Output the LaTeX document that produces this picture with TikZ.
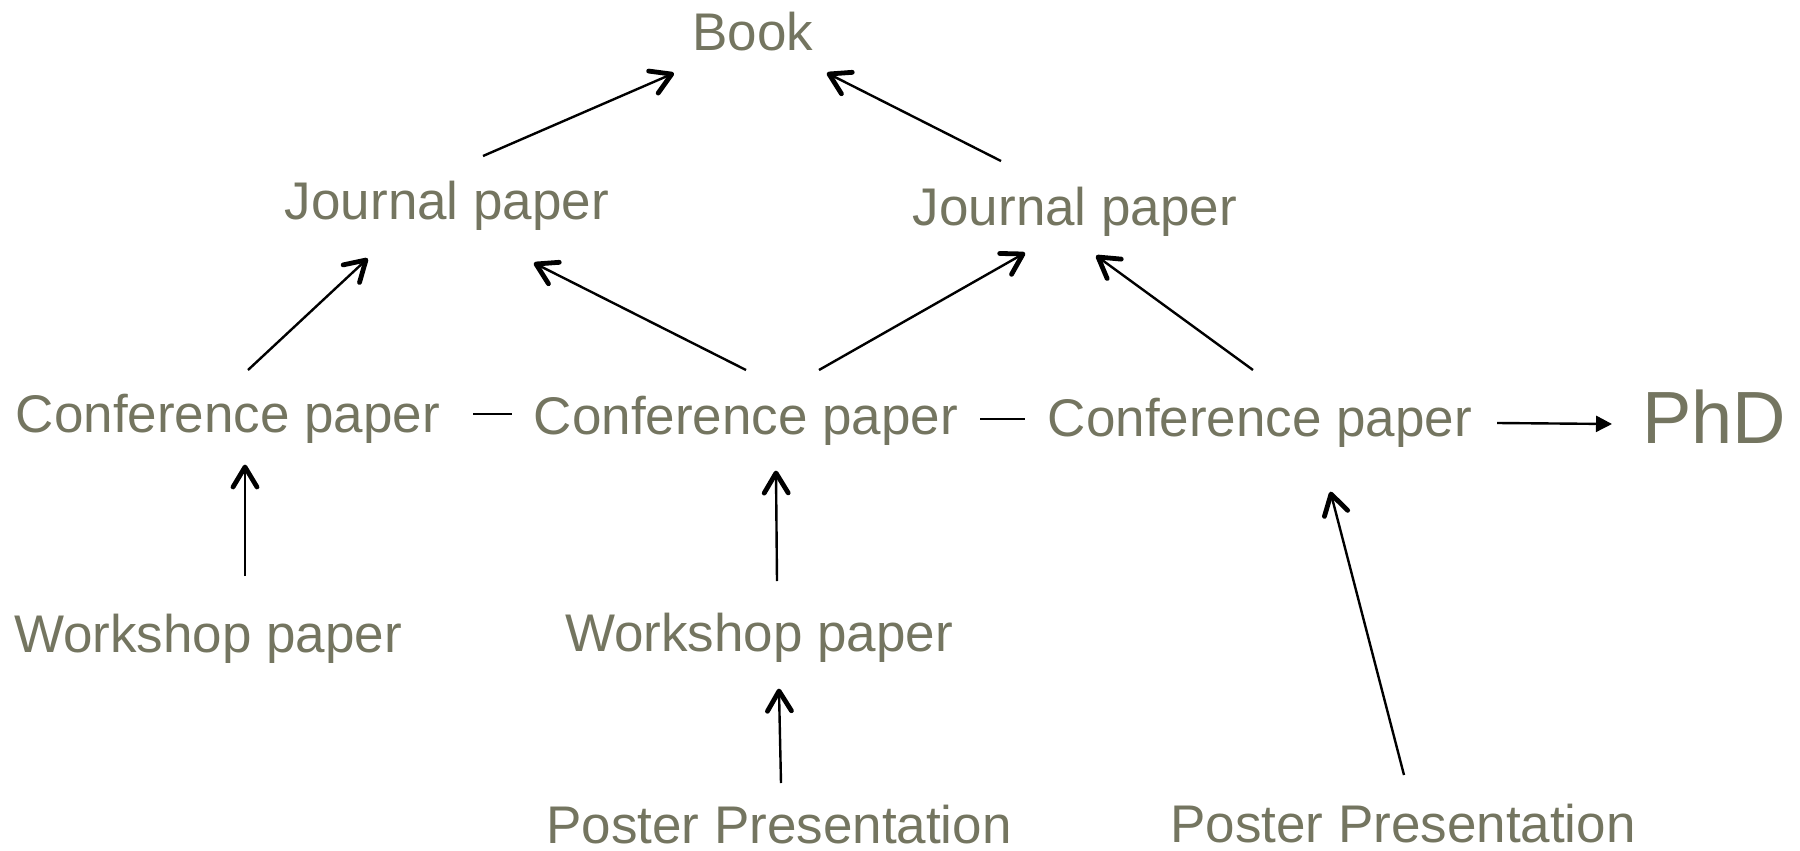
\documentclass[tikz,border=0pt]{standalone}
\usepackage{fontspec}
\setmainfont{Liberation Sans}
\usetikzlibrary{arrows.meta,calc,decorations.markings}
\definecolor{txt}{HTML}{747560}
\tikzset{
  lbl/.style={anchor=base, inner sep=0pt, text=txt, text depth=0pt, font=\fontsize{26.5pt}{30pt}\selectfont},
  biglbl/.style={anchor=base, inner sep=0pt, text=txt, font=\fontsize{37pt}{42pt}\selectfont},
  arr/.style={line width=1.2pt, postaction={decorate},
    decoration={markings, mark=at position 1 with {\draw[line width=2.4pt, line cap=round, line join=round] (-10pt,6pt) -- (0pt,0pt) -- (-10pt,-6pt);}}},
  tri/.style={line width=1.2pt, -{Triangle[length=8pt,width=8pt]}},
  plain/.style={line width=1.2pt}
}
\begin{document}
\begin{tikzpicture}[x=0.5pt,y=-0.5pt]
\useasboundingbox (0,0) rectangle (1800,851);
\node[lbl] (book) at (753,50) {Book};
\node[lbl] (jl) at (447,219) {Journal paper};
\node[lbl] (jr) at (1075,225) {Journal paper};
\node[lbl] (c1) at (228,432) {Conference paper};
\node[lbl] (c2) at (746,434) {Conference paper};
\node[lbl] (c3) at (1260,436) {Conference paper};
\node[biglbl] (phd) at (1714,443) {PhD};
\node[lbl] (w1) at (208,652) {Workshop paper};
\node[lbl] (w2) at (759,651) {Workshop paper};
\node[lbl] (p1) at (779,843) {Poster Presentation};
\node[lbl] (p2) at (1403,842) {Poster Presentation};

\draw[arr] ($(jl.base)+(36,-63)$) -- ($(book.base)+(-81,24)$);
\draw[arr] ($(jr.base)+(-74,-64)$) -- ($(book.base)+(76,24)$);
\draw[arr] ($(c1.base)+(20,-62)$) -- ($(jl.base)+(-81,41)$);
\draw[arr] ($(c2.base)+(0,-64)$) -- ($(jl.base)+(89,45)$);
\draw[arr] ($(c2.base)+(73,-64)$) -- ($(jr.base)+(-52,29)$);
\draw[arr] ($(c3.base)+(-7,-66)$) -- ($(jr.base)+(23,32)$);
\draw[plain] ($(c1.base)+(245,-18)$) -- ($(c2.base)+(-234,-20)$);
\draw[plain] ($(c2.base)+(234,-15)$) -- ($(c3.base)+(-235,-17)$);
\draw[tri] ($(c3.base)+(237,-13)$) -- ($(phd.base)+(-102,-19)$);
\draw[arr] ($(w1.base)+(37,-76)$) -- ($(c1.base)+(17,35)$);
\draw[arr] ($(w2.base)+(18,-70)$) -- ($(c2.base)+(30,39)$);
\draw[arr] ($(p1.base)+(2,-60)$) -- ($(w2.base)+(20,40)$);
\draw[arr] ($(p2.base)+(1,-67)$) -- ($(c3.base)+(71,58)$);
\end{tikzpicture}
\end{document}
